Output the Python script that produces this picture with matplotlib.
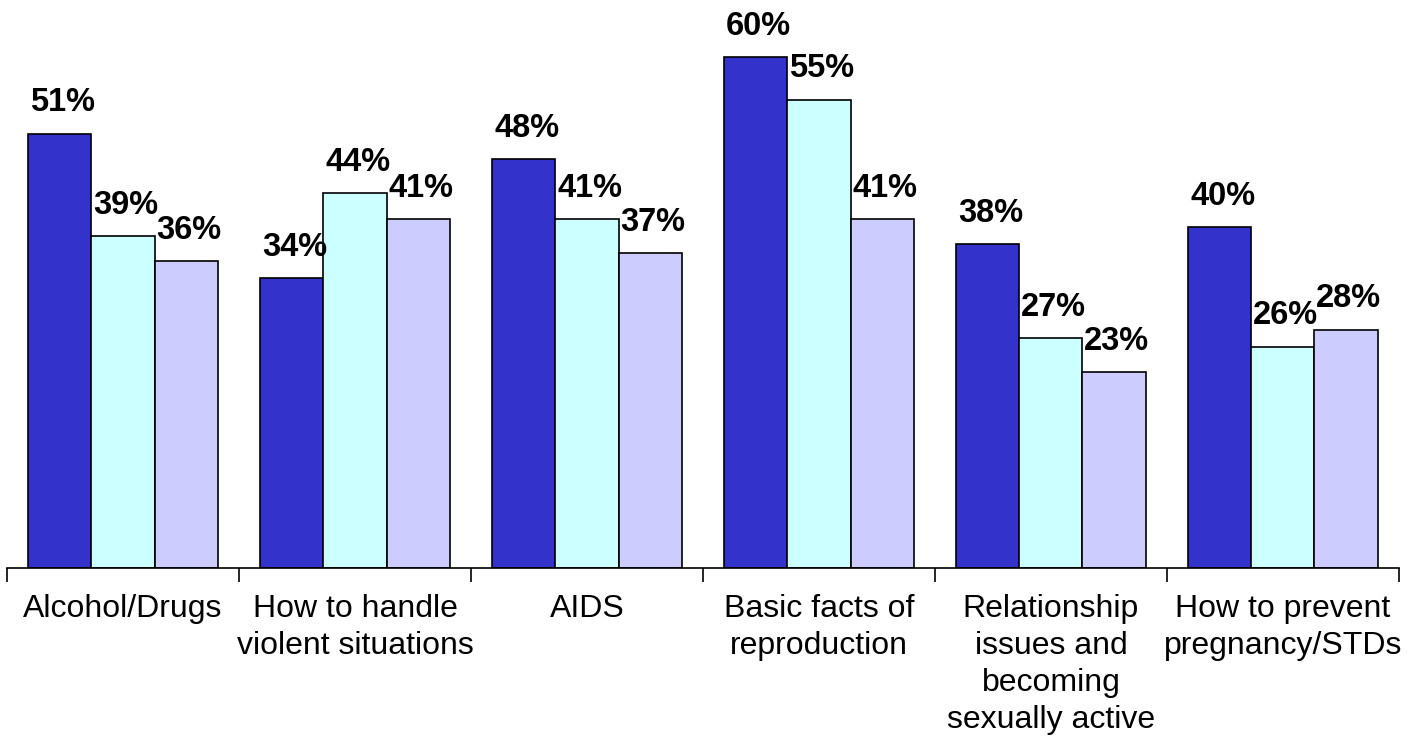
import matplotlib
matplotlib.use("Agg")
import matplotlib.pyplot as plt
import numpy as np

categories = [
    "Alcohol/Drugs",
    "How to handle\nviolent situations",
    "AIDS",
    "Basic facts of\nreproduction",
    "Relationship\nissues and\nbecoming\nsexually active",
    "How to prevent\npregnancy/STDs",
]
series_a = [51, 34, 48, 60, 38, 40]
series_b = [39, 44, 41, 55, 27, 26]
series_c = [36, 41, 37, 41, 23, 28]

colors = ["#3333CC", "#CCFFFF", "#CCCCFF"]

plt.rcParams["font.family"] = ["Liberation Sans", "DejaVu Sans"]

fig = plt.figure(figsize=(14.24, 7.40), dpi=100)
ax = fig.add_axes([0.0049, 0.2324, 0.9775, 0.7676])

x = np.arange(len(categories))
width = 0.272

for i, (vals, col) in enumerate(zip([series_a, series_b, series_c], colors)):
    bars = ax.bar(x + (i - 1) * width, vals, width, color=col,
                  edgecolor="black", linewidth=1.2)
    for b, v in zip(bars, vals):
        ax.annotate(f"{v}%", (b.get_x() + b.get_width() / 2, v),
                    xytext=(2, 11), textcoords="offset points",
                    ha="center", va="bottom", fontsize=23.5, fontweight="bold")

ax.set_xlim(-0.5, len(categories) - 0.5)
ax.set_ylim(0, 66.7)

for s in ["top", "right", "left"]:
    ax.spines[s].set_visible(False)
ax.spines["bottom"].set_linewidth(1.2)
ax.set_yticks([])

ax.set_xticks(x)
ax.set_xticklabels(categories, fontsize=23, linespacing=1.3)
ax.set_xticks(np.arange(-0.5, len(categories)), minor=True)
ax.tick_params(axis="x", which="major", length=0, pad=19)
ax.tick_params(axis="x", which="minor", length=10, width=1.2, direction="out")

fig.savefig("out.png", dpi=100)
